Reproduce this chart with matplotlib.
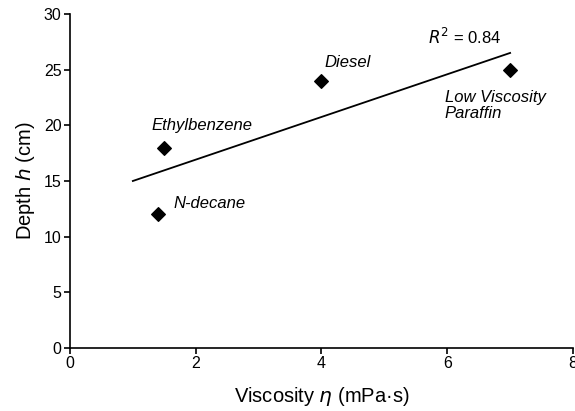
import matplotlib.pyplot as plt
import numpy as np

plt.rcParams['font.family'] = ['Liberation Sans', 'DejaVu Sans']

fluids = ['N-decane', 'Ethylbenzene', 'Diesel', 'Low Viscosity\nParaffin']
viscosity = [1.4, 1.5, 4.0, 7.0]
depth = [12, 18, 24, 25]
# where each fluid name sits (data units)
label_x = [1.64, 1.3, 4.05, 5.96]
label_y = [13.0, 20.0, 25.6, 21.8]

fit_x = [1.0, 7.0]
fit_y = [15.0, 26.5]
r2 = 0.84

fig = plt.figure(figsize=(5.75, 4.11), dpi=100)
ax = fig.add_axes([0.1217, 0.1533, 0.8748, 0.8127])

ax.plot(fit_x, fit_y, color='black', lw=1.3)
ax.scatter(viscosity, depth, marker='D', s=48, color='black', zorder=3)

for name, tx, ty in zip(fluids, label_x, label_y):
    ax.text(tx, ty, name, fontsize=12, style='italic', va='center', ha='left',
            linespacing=1.05)

ax.text(5.69, 27.9, '$\\mathit{R}^{2}$' + f' = {r2:.2f}', fontsize=12,
        va='center', ha='left')

ax.set_xlim(0, 8)
ax.set_ylim(0, 30)
ax.set_xticks([0, 2, 4, 6, 8])
ax.set_yticks([0, 5, 10, 15, 20, 25, 30])
ax.spines['top'].set_visible(False)
ax.spines['right'].set_visible(False)
ax.spines['left'].set_linewidth(1.2)
ax.spines['bottom'].set_linewidth(1.2)
ax.tick_params(direction='out', length=4, width=1.2, labelsize=11.5, pad=2)

ax.set_xlabel('Viscosity $\\eta$ (mPa·s)', fontsize=14.5, labelpad=10)
ax.set_ylabel('Depth $h$ (cm)', fontsize=14.5, labelpad=5)

fig.savefig('out.png', dpi=100)
